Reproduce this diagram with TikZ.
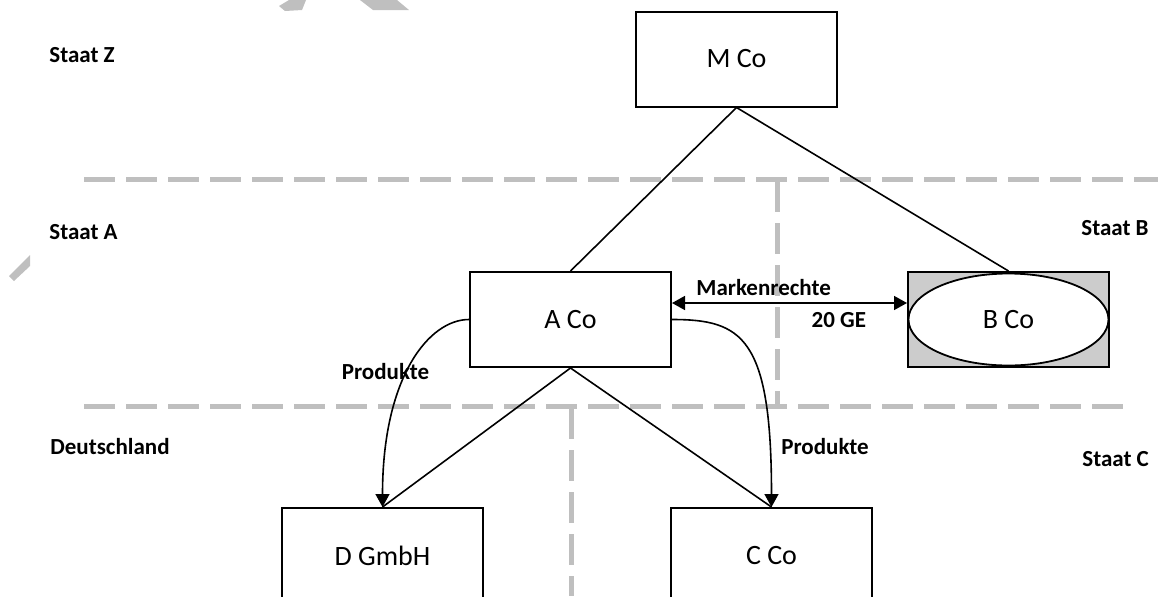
\documentclass[tikz,border=0pt]{standalone}
\usepackage{fontspec}
\setmainfont{Carlito}
\usetikzlibrary{arrows.meta,shapes.geometric}

\begin{document}
\begin{tikzpicture}[x=0.5pt,y=-0.5pt]
   \tikzstyle{firm}=[draw, line width=1pt, minimum width=100.5pt, minimum height=47.5pt, inner sep=0pt, font=\fontsize{14}{16}\selectfont]
   \tikzstyle{staat}=[anchor=west, inner sep=0pt, font=\bfseries\fontsize{11.5}{13}\selectfont]
   \tikzstyle{lbl}=[font=\bfseries\fontsize{11.5}{13}\selectfont]
   \tikzstyle{border}=[draw=gray!50, line width=2.5pt, dash pattern=on 15.5pt off 5.5pt]
   \tikzstyle{link}=[line width=0.8pt]
   \tikzstyle{flow}=[line width=0.8pt, -{Triangle[length=6.5pt,width=7pt]}]

\useasboundingbox (0,0) rectangle (1158,596);
\clip (0,0) rectangle (1158,596);

\fill[gray!50] (279,6) -- (289,0) -- (306,0) -- (302,10) -- (285,11) -- cycle;
\fill[gray!50] (360,0) -- (397,0) -- (409,10) -- (373,10) -- cycle;
\fill[gray!50] (9,276) -- (30,255) -- (30,266) -- (14,281) -- cycle;

\draw[border] (84,179) -- (1158,179);
\draw[border] (84,406) -- (1130,406);
\draw[border] (777,181) -- (777,404);
\draw[border] (571,408) -- (571,596);

\node[staat] (sz) at (49,55) {Staat Z};
\node[staat] (sa) at (49,232) {Staat A};
\node[staat] (sb) at (1081,228) {Staat B};
\node[staat] (de) at (50,447) {Deutschland};
\node[staat] (sc) at (1082,459) {Staat C};

\node[firm] (mco) at (736.5,59) {M Co};
\node[firm] (aco) at (570.5,319.5) {A Co};
\node[firm, fill=gray!40] (bbox) at (1008.5,319.5) {};
\node[ellipse, draw, line width=0.9pt, fill=white, minimum width=100pt, minimum height=46pt, inner sep=0pt, font=\fontsize{14}{16}\selectfont] (bco) at (1008.5,319.5) {B Co};
\node[firm] (dgm) at (382.5,555.5) {D GmbH};
\node[firm] (cco) at (771.5,555.5) {C Co};

\draw[link] (mco.south) -- (aco.north);
\draw[link] (mco.south) -- (bbox.north);
\draw[link] (aco.south) -- (dgm.north);
\draw[link] (aco.south) -- (cco.north);

\draw[flow, {Triangle[length=6.5pt,width=7pt]}-{Triangle[length=6.5pt,width=7pt]}] ([yshift=8.25pt]aco.east) -- ([yshift=8.25pt]bbox.west)
    node[lbl, above, pos=0.39] (mr) {Markenrechte}
    node[lbl, below=1pt, pos=0.71] (ge) {20 GE};
\draw[flow] (aco.west) .. controls +(-40,0) and +(0,-130) .. (dgm.north);
\draw[flow] (aco.east) .. controls +(70,0) and +(0,-170) .. (cco.north);

\node[lbl] (prodl) at (385.5,372) {Produkte};
\node[lbl] (prodr) at (825,447) {Produkte};

\end{tikzpicture}
\end{document}
